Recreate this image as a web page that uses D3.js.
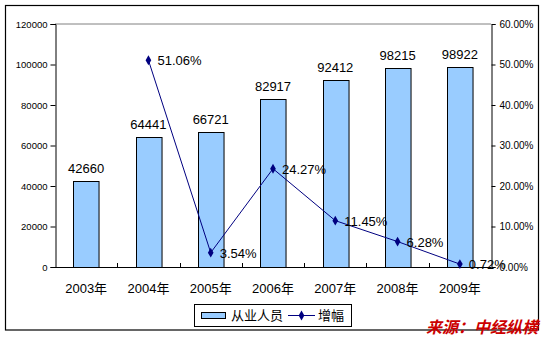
<!DOCTYPE html>
<html><head><meta charset="utf-8">
<script src="https://cdn.jsdelivr.net/npm/d3@7"></script>
<style>body{margin:0;background:#fff}svg{display:block}text{font-family:"Liberation Sans",Arial,"Noto Sans CJK SC",sans-serif}</style>
</head><body><svg id="c" width="549" height="339"></svg>
<script>
const years = ["2003年","2004年","2005年","2006年","2007年","2008年","2009年"];
const employees = [42660, 64441, 66721, 82917, 92412, 98215, 98922];
const growth = [null, 51.06, 3.54, 24.27, 11.45, 6.28, 0.72];
const leftTicks = [0, 20000, 40000, 60000, 80000, 100000, 120000];
const rightTicks = [0, 10, 20, 30, 40, 50, 60];
const legendLabels = ["从业人员", "增幅"];
const sourceText = "来源：中经纵横";

const svg = d3.select("#c");
const L = 55, R = 491, T = 24, B = 267;
const x = d3.scaleBand().domain(years).range([L, R]).paddingInner(0.59).paddingOuter(0.295);
const xc = d3.scaleBand().domain(years).range([L, R]);
const yL = d3.scaleLinear().domain([0, 120000]).range([B, T]);
const yR = d3.scaleLinear().domain([0, 60]).range([B, T]);

// outer border
svg.append("rect").attr("x", 5.5).attr("y", 5.5).attr("width", 533).attr("height", 324.5)
  .attr("fill", "none").attr("stroke", "#000").attr("stroke-width", 1.2);

// top gridline
svg.append("line").attr("x1", L).attr("x2", R).attr("y1", yL(120000)).attr("y2", yL(120000))
  .attr("stroke", "#808080").attr("stroke-width", 1);

// bars
svg.selectAll("rect.bar").data(employees).join("rect").attr("class", "bar")
  .attr("x", (d, i) => Math.round(x(years[i])) + 0.5)
  .attr("y", d => Math.round(yL(d)) + 0.5)
  .attr("width", x.bandwidth())
  .attr("height", d => B - Math.round(yL(d)))
  .attr("fill", "#99ccff").attr("stroke", "#000").attr("stroke-width", 1);

// bar labels
svg.selectAll("text.bl").data(employees).join("text").attr("class", "bl")
  .attr("x", (d, i) => xc(years[i]) + xc.bandwidth() / 2)
  .attr("y", d => yL(d) - 8)
  .attr("text-anchor", "middle").attr("font-size", 13).attr("fill", "#000")
  .text(d => d);

// axes
const axL = svg.append("g").attr("transform", `translate(${L + 0.5},0)`)
  .call(d3.axisLeft(yL).tickValues(leftTicks).tickSize(5).tickPadding(3).tickFormat(d3.format("d")));
const axR = svg.append("g").attr("transform", `translate(${R + 0.5},0)`)
  .call(d3.axisRight(yR).tickValues(rightTicks).tickSize(4).tickPadding(4).tickFormat(d => d3.format(".2f")(d) + "%"));
const axB = svg.append("g").attr("transform", `translate(0,${B + 0.5})`)
  .call(d3.axisBottom(xc).tickSize(0).tickPadding(16));
[axL, axR, axB].forEach(g => {
  g.select(".domain").attr("stroke", "#000");
  g.selectAll(".tick line").attr("stroke", "#000");
  g.selectAll("text").attr("fill", "#000").style("font-family", '"Liberation Sans",Arial,"Noto Sans CJK SC",sans-serif');
});
axL.selectAll("text").attr("font-size", 9.5);
axR.selectAll("text").attr("font-size", 10);
axB.selectAll("text").attr("font-size", 13);
axB.select(".domain").attr("d", `M${L},0H${R + 0.5}`);
// inner category boundary ticks on x axis
svg.selectAll("line.ct").data(years.slice(1)).join("line").attr("class", "ct")
  .attr("x1", d => Math.round(xc(d)) + 0.5).attr("x2", d => Math.round(xc(d)) + 0.5)
  .attr("y1", B).attr("y2", B - 4).attr("stroke", "#000");

// growth line
const pts = growth.map((g, i) => ({ g, yr: years[i] })).filter(p => p.g !== null);
const cx = p => xc(p.yr) + xc.bandwidth() / 2;
svg.append("path").datum(pts)
  .attr("d", d3.line().x(cx).y(p => yR(p.g)))
  .attr("fill", "none").attr("stroke", "#000080").attr("stroke-width", 1);
const diamond = d3.symbol().type(d3.symbolDiamond).size(28);
svg.selectAll("path.mk").data(pts).join("path").attr("class", "mk")
  .attr("transform", p => `translate(${cx(p)},${yR(p.g)})`)
  .attr("d", diamond).attr("fill", "#000080");
svg.selectAll("text.gl").data(pts).join("text").attr("class", "gl")
  .attr("x", p => cx(p) + 9).attr("y", p => yR(p.g) + 5)
  .attr("font-size", 13).attr("fill", "#000")
  .text(p => d3.format(".2f")(p.g) + "%");

// legend
const lg = svg.append("g");
lg.append("rect").attr("x", 194.5).attr("y", 304.5).attr("width", 157).attr("height", 22)
  .attr("fill", "#fff").attr("stroke", "#000").attr("stroke-width", 1);
lg.append("rect").attr("x", 201.5).attr("y", 312.5).attr("width", 24).attr("height", 6)
  .attr("fill", "#99ccff").attr("stroke", "#000");
lg.append("text").attr("x", 231).attr("y", 320).attr("font-size", 13).attr("fill", "#000").text(legendLabels[0]);
lg.append("line").attr("x1", 288).attr("x2", 315).attr("y1", 315.5).attr("y2", 315.5).attr("stroke", "#000080");
lg.append("path").attr("transform", "translate(301.5,315.5)").attr("d", diamond).attr("fill", "#000080");
lg.append("text").attr("x", 318).attr("y", 320).attr("font-size", 13).attr("fill", "#000").text(legendLabels[1]);

// source
svg.append("text").attr("x", 426).attr("y", 333).attr("font-size", 16).attr("font-weight", "bold")
  .attr("font-style", "italic").attr("fill", "#cc0000")
  .style("font-family", '"Noto Sans CJK SC",sans-serif').text(sourceText);
</script></body></html>
